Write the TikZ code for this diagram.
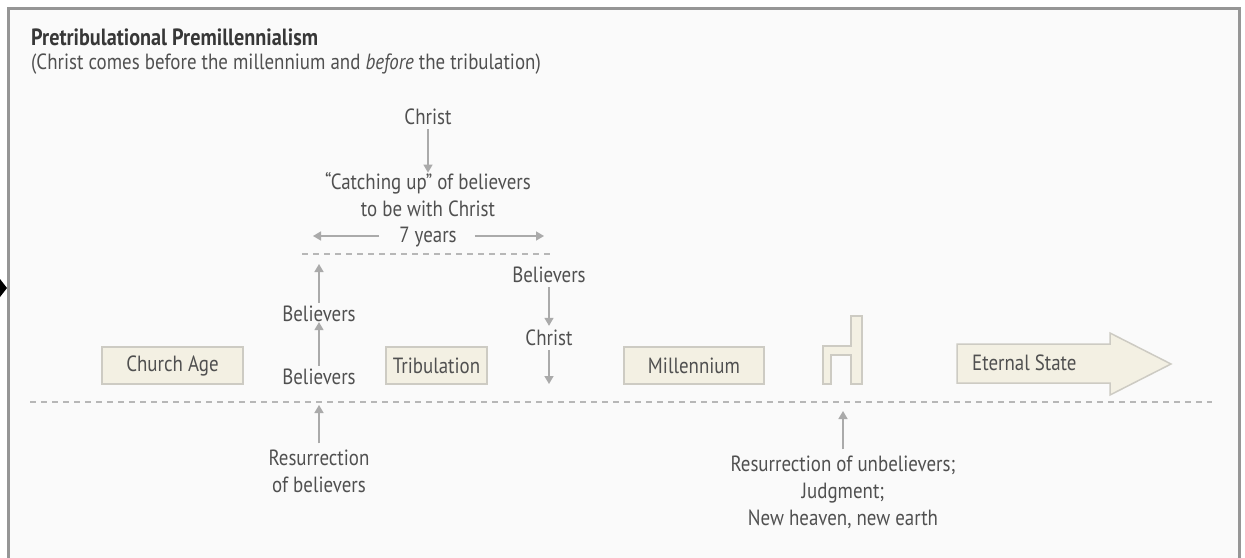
\documentclass[tikz,border=0pt]{standalone}
\usepackage{fontspec}
\setmainfont[FakeStretch=0.86]{PT Sans}
\usetikzlibrary{arrows.meta}
\definecolor{frame}{RGB}{150,150,150}
\definecolor{paper}{RGB}{250,250,250}
\definecolor{ink}{RGB}{80,80,80}
\definecolor{head}{RGB}{55,55,55}
\definecolor{cream}{RGB}{243,240,227}
\definecolor{edge}{RGB}{205,203,195}
\definecolor{line}{RGB}{170,170,170}

\begin{document}
\begin{tikzpicture}[%
        x=1pt, y=-1pt,
        txt/.style ={text=ink, font=\fontsize{22}{27}\selectfont, align=center, inner sep=0pt},
        period/.style={txt, draw=edge, fill=cream, line width=1.5pt, minimum height=37pt},
        arr/.style ={-{Triangle[length=8pt,width=9pt]}, draw=line, line width=1.5pt},
        dotline/.style={draw=line!85, line width=1.5pt, dash pattern=on 6pt off 5pt}
        ]
        \useasboundingbox (0,0) rectangle (1245,557);
        \fill[white] (0,0) rectangle (1245,557);
        \draw[frame, fill=paper, line width=3pt] (8,8) rectangle (1239,570);
        \fill[black] (0,279) -- (7,288) -- (0,297) -- cycle;
        % heading
        \node[txt, anchor=west, text=head, font=\fontsize{23.5}{27}\bfseries] (ttl) at (31,37) {Pretribulational Premillennialism};
        \node[txt, anchor=west] (sub) at (31,64) {(Christ comes before the millennium and \textit{before} the tribulation)};
        % rapture
        \node[txt] (chr) at (428,117) {Christ};
        \node[txt] (cup) at (428,195) {“Catching up” of believers\\to be with Christ};
        \node[txt] (yrs) at (428,237) {7 years};
        \coordinate (yl) at (313,236);
        \coordinate (yr) at (544,236);
        \coordinate (rl) at (302,254);
        \coordinate (rr) at (552,254);
        \draw[arr, shorten <=4pt] (chr.south) -- (cup.north);
        \draw[arr, shorten <=20pt] (yrs.west |- yl) -- (yl);
        \draw[arr, shorten <=18pt] (yrs.east |- yr) -- (yr);
        \draw[dotline] (rl) -- (rr);
        % periods
        \node[period, minimum width=141pt] (cha) at (172.5,365.5) {Church Age};
        \node[period, minimum width=101pt] (tri) at (436.5,365.5) {Tribulation};
        \node[period, minimum width=140pt] (mil) at (694,365.5) {Millennium};
        \filldraw[draw=edge, fill=cream, line width=1.5pt] (823,384) -- (823,346) -- (851,346) -- (851,316) -- (862,316) -- (862,384) -- (851,384) -- (851,355) -- (831,355) -- (831,384) -- cycle;
        \filldraw[draw=edge, fill=cream, line width=1.5pt] (957,344) -- (1110,344) -- (1110,333) -- (1171,364) -- (1110,395) -- (1110,383) -- (957,383) -- cycle;
        \node[txt, anchor=west] (est) at (972,363) {Eternal State};
        % believers up, Christ down
        \node[txt] (bl1) at (319,377) {Believers};
        \node[txt] (bl2) at (319,314) {Believers};
        \coordinate (bt) at (319,264);
        \draw[arr, shorten <=3pt] (bl1.north) -- (bl2.south);
        \draw[arr, shorten <=3pt] (bl2.north) -- (bt);
        \node[txt] (bl3) at (549,275) {Believers};
        \node[txt] (chr2) at (549,338) {Christ};
        \coordinate (cb) at (549,384);
        \draw[arr, shorten <=4pt, shorten >=4pt] (bl3.south) -- (chr2.north);
        \draw[arr, shorten <=4pt] (chr2.south) -- (cb);
        % time line
        \coordinate (tl) at (30,402);
        \coordinate (tr) at (1212,402);
        \draw[dotline] (tl) -- (tr);
        \node[txt] (res1) at (319,471) {Resurrection\\of believers};
        \coordinate (r1) at (319,405);
        \draw[arr, shorten <=6pt] (res1.north) -- (r1);
        \node[txt] (res2) at (843,492) {Resurrection of unbelievers;\\Judgment;\\New heaven, new earth};
        \coordinate (r2) at (843,411);
        \draw[arr, shorten <=6pt] (res2.north) -- (r2);
\end{tikzpicture}
\end{document}
